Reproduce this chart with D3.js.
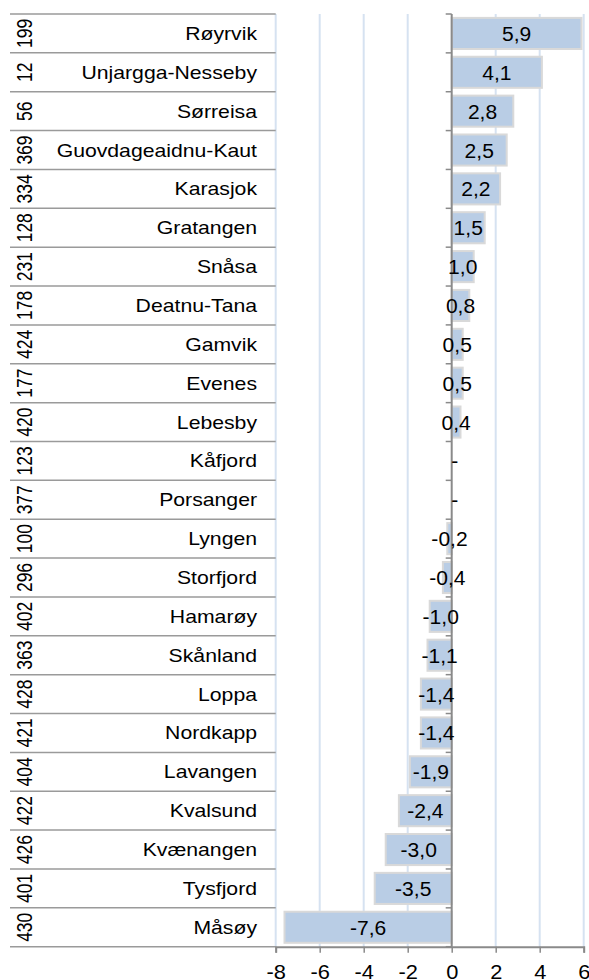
<!DOCTYPE html>
<html lang="no">
<head>
<meta charset="utf-8">
<title>Endring</title>
<style>
  body { margin: 0; background: #fff; }
  svg text { font-family: "Liberation Sans", Arial, sans-serif; fill: #000; }
</style>
</head>
<body>
<svg id="chart" width="589" height="980"></svg>
<script src="https://d3js.org/d3.v7.min.js"></script>
<script>
// data
var names = ["Røyrvik", "Unjargga-Nesseby", "Sørreisa", "Guovdageaidnu-Kaut", "Karasjok",
  "Gratangen", "Snåsa", "Deatnu-Tana", "Gamvik", "Evenes", "Lebesby", "Kåfjord",
  "Porsanger", "Lyngen", "Storfjord", "Hamarøy", "Skånland", "Loppa", "Nordkapp",
  "Lavangen", "Kvalsund", "Kvænangen", "Tysfjord", "Måsøy"];
var ranks = [199, 12, 56, 369, 334, 128, 231, 178, 424, 177, 420, 123,
  377, 100, 296, 402, 363, 428, 421, 404, 422, 426, 401, 430];
var values = [5.9, 4.1, 2.8, 2.5, 2.2, 1.5, 1.0, 0.8, 0.5, 0.5, 0.4, 0,
  0, -0.2, -0.4, -1.0, -1.1, -1.4, -1.4, -1.9, -2.4, -3.0, -3.5, -7.6];
var ticks = [-8, -6, -4, -2, 0, 2, 4, 6];

var svg = d3.select('#chart');
var plotTop = 14, plotBottom = 946.7, tableLeft = 10;

var x = d3.scaleLinear().domain([-8, 6]).range([275.7, 583.7]);
var y = d3.scaleBand().domain(d3.range(names.length)).range([plotTop, plotBottom])
  .paddingInner(0.2).paddingOuter(0.1);
var step = y.step();
function rowTop(i) { return plotTop + i * step; }

var fmt = function(v) {
  return v === 0 ? '-' : d3.format('.1f')(v).replace('.', ',').replace('−', '-');
};

// gridlines
svg.append('g').selectAll('line').data(ticks.filter(function(t) { return t !== 0; }))
  .enter().append('line')
  .attr('x1', function(d) { return x(d); }).attr('x2', function(d) { return x(d); })
  .attr('y1', plotTop).attr('y2', plotBottom)
  .attr('stroke', '#d6e2f1').attr('stroke-width', 2);

// table lines
svg.append('g').selectAll('line').data(d3.range(names.length + 1))
  .enter().append('line')
  .attr('x1', tableLeft).attr('x2', x(-8))
  .attr('y1', function(i) { return rowTop(i); }).attr('y2', function(i) { return rowTop(i); })
  .attr('stroke', '#9a9a9a').attr('stroke-width', 1.5);

// bars
svg.append('g').selectAll('rect').data(values)
  .enter().append('rect')
  .attr('x', function(d) { return x(Math.min(0, d)); })
  .attr('y', function(d, i) { return y(i); })
  .attr('width', function(d) { return Math.abs(x(d) - x(0)); })
  .attr('height', y.bandwidth())
  .attr('fill', '#b9cde5')
  .attr('stroke', function(d) { return d === 0 ? 'none' : '#d9d9d9'; })
  .attr('stroke-width', 2);

// zero axis with ticks at row boundaries
svg.append('line')
  .attr('x1', x(0)).attr('x2', x(0)).attr('y1', plotTop).attr('y2', plotBottom)
  .attr('stroke', '#8a8a8a').attr('stroke-width', 2);
svg.append('g').selectAll('line').data(d3.range(names.length + 1))
  .enter().append('line')
  .attr('x1', x(0) - 6).attr('x2', x(0))
  .attr('y1', function(i) { return rowTop(i); }).attr('y2', function(i) { return rowTop(i); })
  .attr('stroke', '#8a8a8a').attr('stroke-width', 1.5);

// bottom axis
var xAxis = svg.append('g').attr('transform', 'translate(0,' + plotBottom + ')')
  .call(d3.axisBottom(x).tickValues(ticks).tickSize(6).tickPadding(12)
    .tickFormat(function(d) { return d3.format('d')(d).replace('−', '-'); }));
xAxis.select('.domain').attr('stroke', '#8a8a8a').attr('stroke-width', 2);
xAxis.selectAll('.tick line').attr('stroke', '#8a8a8a').attr('stroke-width', 1.5);
xAxis.selectAll('.tick text').attr('font-size', 19.5).attr('font-family', '"Liberation Sans", Arial, sans-serif')
  .attr('fill', '#000').attr('transform', 'scale(1.12,1)');

// bar labels
svg.append('g').selectAll('text').data(values)
  .enter().append('text')
  .attr('transform', function(d, i) {
    var cx = d === 0 ? x(0) + 3 : (x(0) + x(d)) / 2;
    var cy = y(i) + y.bandwidth() / 2 + 7.5;
    return 'translate(' + cx + ',' + cy + ') scale(1.08,1)';
  })
  .attr('text-anchor', 'middle')
  .attr('font-size', 19.5)
  .text(fmt);

// names
svg.append('g').selectAll('text').data(names)
  .enter().append('text')
  .attr('transform', function(d, i) {
    return 'translate(257,' + (rowTop(i) + step / 2 + 6.5) + ') scale(1.14,1)';
  })
  .attr('text-anchor', 'end')
  .attr('font-size', 18.6)
  .text(function(d) { return d; });

// ranks, rotated
svg.append('g').selectAll('text').data(ranks)
  .enter().append('text')
  .attr('transform', function(d, i) {
    return 'translate(31.5,' + (rowTop(i) + step / 2) + ') scale(1.3,1) rotate(-90)';
  })
  .attr('text-anchor', 'middle')
  .attr('font-size', 17.5)
  .text(function(d) { return d; });
</script>
</body>
</html>
